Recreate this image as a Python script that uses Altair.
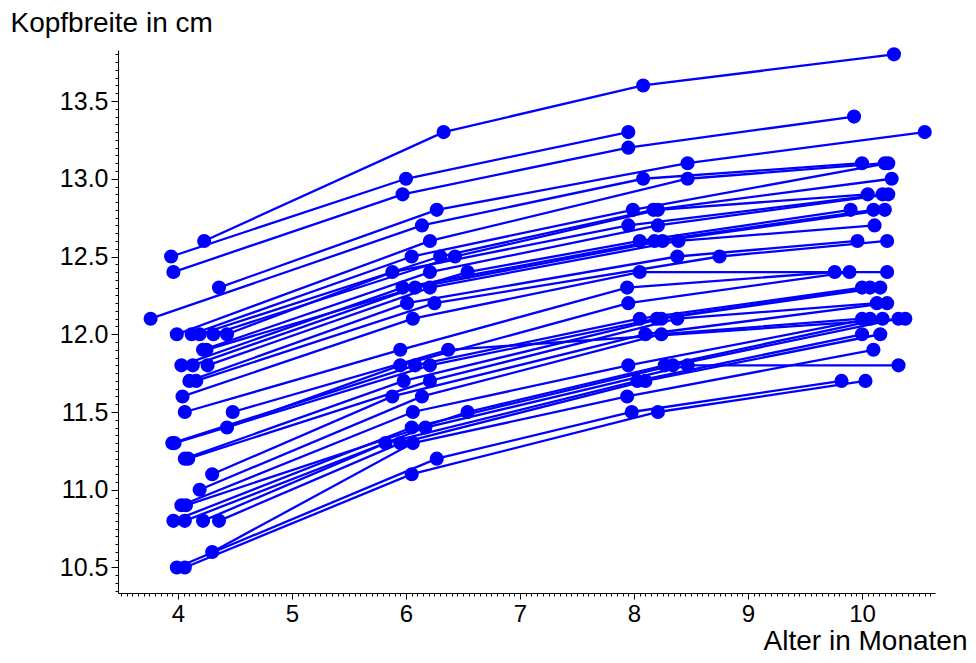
import altair as alt
import pandas as pd
import numpy as np

# one entry per child; None = no measurement at that visit
alter_4 = [4.23, 3.94, 3.96, 4.36, 3.76, 3.99, 4.12, 4.19, 4.31, 4.43, 4.22, 4.25,
           4.03, 4.13, 4.26, 4.10, 4.16, 4.04, 4.06, 4.48, 4.43, 3.95, 3.97, 4.06,
           4.09, 4.30, 4.19, 4.03, 4.07, 3.96, 4.06, 4.22, 4.36, 4.30, 3.99, 4.06]
breite_4 = [12.6, 12.5, 12.4, 12.3, 12.1, 12.0, 12.0, 12.0, 12.0, 12.0, 11.9, 11.9,
            11.8, 11.8, 11.8, 11.7, 11.7, 11.6, 11.5, 11.5, 11.4, 11.3, 11.3, 11.2,
            11.2, 11.1, 11.0, 10.9, 10.9, 10.8, 10.8, 10.8, 10.8, 10.6, 10.5, 10.5]

alter_6 = [6.33, 6.00, 5.97, 6.27, 6.14, 6.21, 6.05, 6.30, 6.43, 5.88, 6.21, 6.54,
           5.97, 6.08, 6.21, 6.01, 6.25, 6.06, 5.95, 6.37, 5.95, 6.08, 6.21, 5.98,
           6.21, 5.88, 6.14, 6.06, 6.54, 6.05, 6.17, 5.82, 5.95, 6.06, 6.27, 6.05]
breite_6 = [13.3, 13.0, 12.9, 12.8, 12.7, 12.6, 12.5, 12.5, 12.5, 12.4, 12.4, 12.4,
            12.3, 12.3, 12.3, 12.2, 12.2, 12.1, 11.9, 11.9, 11.8, 11.8, 11.8, 11.7,
            11.7, 11.6, 11.6, 11.5, 11.5, 11.4, 11.4, 11.3, 11.3, 11.3, 11.2, 11.1]

alter_8 = [8.08, 7.95, 7.95, 8.47, 8.08, 8.47, 7.99, 8.17, 8.21, 7.95, 8.21, 8.05,
           8.18, 8.25, 8.39, 8.38, 8.75, 8.05, 7.94, None, 7.95, 8.05, 8.20, 8.24,
           8.38, 8.10, 8.24, 7.95, 8.27, 8.34, 8.47, 8.03, 8.10, 7.94, 7.98, 8.21]
breite_8 = [13.6, 13.3, 13.2, 13.1, 13.0, 13.0, 12.8, 12.8, 12.8, 12.7, 12.7, 12.6,
            12.6, 12.6, 12.6, 12.5, 12.5, 12.4, 12.3, None, 12.2, 12.1, 12.1, 12.1,
            12.1, 12.0, 12.0, 11.8, 11.8, 11.8, 11.8, 11.7, 11.7, 11.6, 11.5, 11.5]

alter_10 = [10.28, None, 9.93, 10.55, 10.00, 10.20, 10.23, 10.26, 10.05, 10.18, 10.23, 9.90,
            10.10, 10.20, 10.11, 9.96, 10.22, 10.22, 9.76, 10.38, 9.89, 10.00, 10.07, 10.16,
            10.13, 10.22, 10.00, 10.07, 10.18, 10.32, 10.32, 10.00, 10.16, 10.10, 9.82, 10.03]
breite_10 = [13.8, None, 13.4, 13.3, 13.1, 13.1, 13.1, 13.0, 12.9, 12.9, 12.9, 12.8,
             12.8, 12.8, 12.7, 12.6, 12.6, 12.4, 12.4, 12.1, 12.4, 12.3, 12.3, 12.3,
             12.2, 12.2, 12.1, 12.1, 12.1, 12.1, 11.8, 12.0, 12.0, 11.9, 11.7, 11.7]

x_major = [4, 5, 6, 7, 8, 9, 10]
y_major = [10.5, 11.0, 11.5, 12.0, 12.5, 13.0, 13.5]

rows = []
for k in range(len(alter_4)):
    for a, b in ((alter_4[k], breite_4[k]), (alter_6[k], breite_6[k]),
                 (alter_8[k], breite_8[k]), (alter_10[k], breite_10[k])):
        if a is not None:
            rows.append({"kind": k, "alter": a, "breite": b})
df = pd.DataFrame(rows)

x_minor = [round(v, 2) for v in np.arange(3.5, 10.64, 0.05)]
y_minor = [round(v, 2) for v in np.arange(10.35, 13.83, 0.05)]

xs = alt.Scale(domain=[3.474, 10.64], nice=False, zero=False)
ys = alt.Scale(domain=[10.336, 13.828], nice=False, zero=False)
FONT = "Liberation Sans"
BLUE = "#0000ff"

lines = alt.Chart(df).mark_line(color=BLUE, strokeWidth=2.3).encode(
    x=alt.X("alter:Q", scale=xs, axis=alt.Axis(
        orient="bottom", values=x_major, format="d", tickSize=6, tickColor="black",
        domainColor="black", labelFontSize=24, labelFont=FONT, labelColor="black",
        labelPadding=3, grid=False, labelOverlap=False, labelFlush=False,
        title="Alter in Monaten", titleFont=FONT, titleFontSize=28, titleFontWeight="normal",
        titleColor="black", titleX=849, titleY=56, titleAlign="right",
        titleBaseline="alphabetic")),
    y=alt.Y("breite:Q", scale=ys, axis=alt.Axis(
        orient="left", values=y_major, format=".1f", tickSize=7, tickColor="black",
        domainColor="black", labelFontSize=25, labelFont=FONT, labelColor="black",
        labelPadding=3, grid=False, labelOverlap=False, labelFlush=False,
        title="Kopfbreite in cm", titleFont=FONT, titleFontSize=28, titleFontWeight="normal",
        titleColor="black", titleAngle=0, titleX=-108, titleY=-19, titleAlign="left",
        titleBaseline="alphabetic")),
    detail="kind:N",
    order="alter:Q",
)

points = alt.Chart(df).mark_circle(color=BLUE, size=200, opacity=1).encode(
    x=alt.X("alter:Q", scale=xs, axis=alt.Axis(
        orient="bottom", values=x_minor, tickSize=3, tickColor="black", labels=False,
        domain=False, grid=False, title="")),
    y=alt.Y("breite:Q", scale=ys, axis=alt.Axis(
        orient="left", values=y_minor, tickSize=3, tickColor="black", labels=False,
        domain=False, grid=False, title="")),
)

chart = alt.layer(lines, points).resolve_axis(x="independent", y="independent").properties(
    width=817, height=543,
    autosize=alt.AutoSizeParams(type="none"),
    padding={"left": 110, "top": 42, "right": 33, "bottom": 62},
).configure_view(stroke=None)

chart.save("out.html", embed_options={"renderer": "svg", "actions": False})
